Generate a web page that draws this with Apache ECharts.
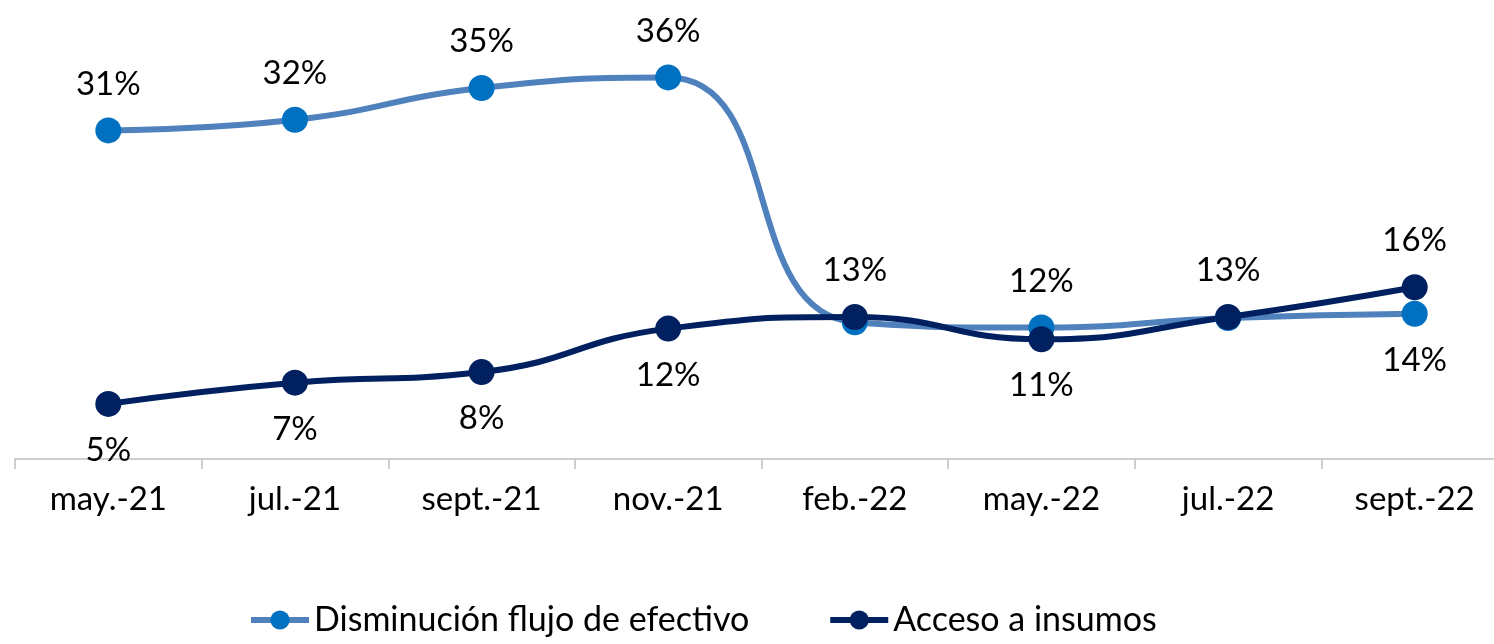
<!DOCTYPE html>
<html>
<head>
<meta charset="utf-8">
<script src="https://cdn.jsdelivr.net/npm/echarts@6/dist/echarts.min.js"></script>
<style>
  html, body { margin: 0; padding: 0; background: #fff; overflow: hidden; }
  #chart { width: 1510px; height: 644px; }
</style>
</head>
<body>
<div id="chart"></div>
<script>
// categorias del eje
var categories = ['may.-21', 'jul.-21', 'sept.-21', 'nov.-21', 'feb.-22', 'may.-22', 'jul.-22', 'sept.-22'];
// valores (%)
var flujoEfectivo = [31, 32, 35, 36, 12.9, 12.4, 13.3, 13.7];
var accesoInsumos = [5.2, 7.2, 8.2, 12.3, 13.4, 11.3, 13.4, 16.2];
// posicion de etiquetas por punto
var flujoLabelPos = ['top', 'top', 'top', 'top', null, 'top', null, 'bottom'];
var insumosLabelPos = ['bottom', 'bottom', 'bottom', 'bottom', 'top', 'bottom', 'top', 'top'];

var font = 'Lato';

function buildData(values, positions) {
    return values.map(function (v, i) {
        var p = positions[i];
        if (!p) {
            return { value: v, label: { show: false } };
        }
        return { value: v, label: { position: p } };
    });
}

var myChart = echarts.init(document.getElementById('chart'));
var options = {
    animation: false,
    grid: { left: 15, top: 35, right: 2, height: 424 },
    legend: {
        bottom: 2,
        left: 243,
        itemGap: 78,
        itemWidth: 58,
        itemHeight: 24,
        lineStyle: { width: 6 },
        textStyle: { fontFamily: font, fontSize: 34, color: '#000' },
        data: ['Disminución flujo de efectivo', 'Acceso a insumos']
    },
    xAxis: {
        type: 'category',
        data: categories,
        axisLine: { lineStyle: { color: '#bfbfbf', width: 1.5 } },
        axisTick: { show: true, length: 10, lineStyle: { color: '#bfbfbf', width: 1.5 } },
        axisLabel: { fontFamily: font, fontSize: 33, color: '#000', margin: 24 }
    },
    yAxis: {
        type: 'value',
        min: 0,
        max: 40,
        show: false,
        splitLine: { show: false }
    },
    series: [
        {
            name: 'Disminución flujo de efectivo',
            type: 'line',
            smooth: 0.5,
            symbol: 'circle',
            symbolSize: 26,
            lineStyle: { color: '#4f81bd', width: 6 },
            itemStyle: { color: '#0070c0' },
            label: {
                show: true,
                distance: 17,
                fontFamily: font,
                fontSize: 33,
                color: '#000',
                formatter: function (p) { return Math.round(p.value) + '%'; }
            },
            data: buildData(flujoEfectivo, flujoLabelPos)
        },
        {
            name: 'Acceso a insumos',
            type: 'line',
            smooth: 0.5,
            symbol: 'circle',
            symbolSize: 26,
            lineStyle: { color: '#002060', width: 6 },
            itemStyle: { color: '#002060' },
            label: {
                show: true,
                distance: 17,
                fontFamily: font,
                fontSize: 33,
                color: '#000',
                formatter: function (p) { return Math.round(p.value) + '%'; }
            },
            data: buildData(accesoInsumos, insumosLabelPos)
        }
    ]
};
myChart.setOption(options);
</script>
</body>
</html>
